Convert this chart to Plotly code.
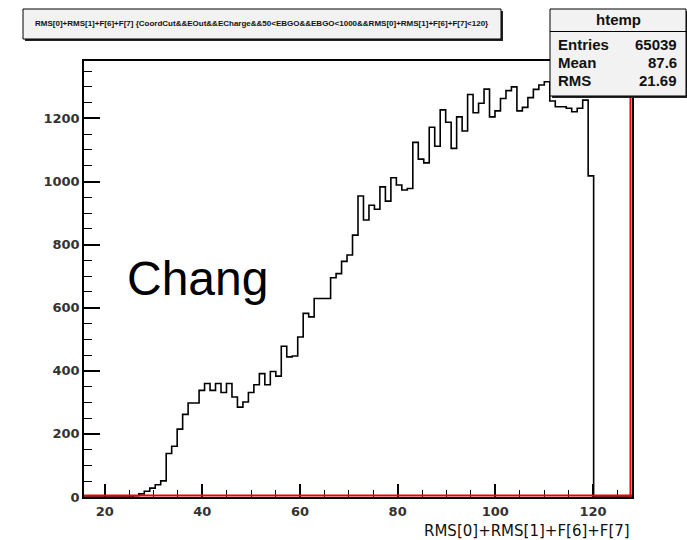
import plotly.graph_objects as go

# Histogram definition: 100 equal bins between XMIN and XMAX
XMIN, XMAX = 15.76, 128.0
NBINS = 100
YMAX = 1382

counts = (
    [0] * 9
    + [4, 10, 18, 28, 39, 51]
    + [138, 161, 215, 262, 298, 298]
    + [338, 360, 338, 360, 331, 360, 317, 285, 301, 331]
    + [356, 391, 356, 398, 383, 478, 444, 447, 507, 582]
    + [571, 629, 629, 629, 695, 708, 747, 767, 830, 954]
    + [878, 925, 912, 983, 938, 1012, 989, 973, 978, 1124]
    + [1071, 1059, 1172, 1112, 1227, 1188, 1105, 1205, 1160, 1276]
    + [1218, 1248, 1293, 1205, 1224, 1263, 1288, 1300, 1224, 1235]
    + [1266, 1292, 1306, 1316, 1255, 1237, 1237, 1232, 1221, 1232, 1258, 1018]
    + [0] * 7
)

x_ticks = [20, 40, 60, 80, 100, 120]
y_ticks = [0, 200, 400, 600, 800, 1000, 1200]

hist_name = "htemp"
stat_labels = ["Entries", "Mean", "RMS"]
stat_values = ["65039", "87.6", "21.69"]
x_title = "RMS[0]+RMS[1]+F[6]+F[7]"
plot_title = ("RMS[0]+RMS[1]+F[6]+F[7] {CoordCut&&EOut&&ECharge&&50<EBGO&&"
              "EBGO<1000&&RMS[0]+RMS[1]+F[6]+F[7]<120}")
label_text = "Chang"

bw = (XMAX - XMIN) / NBINS
edges = [XMIN + i * bw for i in range(NBINS + 1)]
step_y = counts + [counts[-1]]

W, H = 687, 540
ML, MR, MT, MB = 84, 55, 61, 43
PW, PH = W - ML - MR, H - MT - MB


def px(x):
    return (x - ML) / PW


def py(y):
    return (H - MB - y) / PH


fig = go.Figure()
fig.add_trace(go.Scatter(
    x=edges, y=step_y, mode="lines", line_shape="hv",
    line=dict(color="black", width=1.6), hoverinfo="skip", showlegend=False,
))

shapes = []
# red lines just inside the bottom and right edges of the frame
shapes.append(dict(type="line", xref="x", yref="y", x0=XMIN, x1=XMAX,
                   ysizemode="pixel", yanchor=0, y0=1.5, y1=1.5,
                   line=dict(color="#ee0000", width=2), layer="above"))
shapes.append(dict(type="line", xref="x", yref="y", y0=0, y1=YMAX,
                   xsizemode="pixel", xanchor=XMAX, x0=-1.5, x1=-1.5,
                   line=dict(color="#ee0000", width=2), layer="above"))

# title pave with shadow
tb = (23, 9, 501, 39)
shapes.append(dict(type="rect", xref="paper", yref="paper",
                   x0=px(tb[0] + 2), x1=px(tb[2] + 2), y0=py(tb[3] + 2), y1=py(tb[1] + 2),
                   fillcolor="#222222", line=dict(width=0), layer="above"))
shapes.append(dict(type="rect", xref="paper", yref="paper",
                   x0=px(tb[0]), x1=px(tb[2]), y0=py(tb[3]), y1=py(tb[1]),
                   fillcolor="#f2f2f2", line=dict(color="black", width=1), layer="above"))

# statistics box with shadow
sb = (550, 9, 686, 96)
shapes.append(dict(type="rect", xref="paper", yref="paper",
                   x0=px(sb[0] + 2), x1=px(sb[2] + 2), y0=py(sb[3] + 2), y1=py(sb[1] + 2),
                   fillcolor="#222222", line=dict(width=0), layer="above"))
shapes.append(dict(type="rect", xref="paper", yref="paper",
                   x0=px(sb[0]), x1=px(sb[2]), y0=py(sb[3]), y1=py(sb[1]),
                   fillcolor="#f2f2f2", line=dict(color="black", width=1), layer="above"))
shapes.append(dict(type="line", xref="paper", yref="paper",
                   x0=px(sb[0]), x1=px(sb[2]), y0=py(31.5), y1=py(31.5),
                   line=dict(color="black", width=1), layer="above"))

annotations = []
stat_font = dict(family="Liberation Sans", size=15, color="#111111")
annotations.append(dict(xref="paper", yref="paper", x=px(618), y=py(20), text=f"<b>{hist_name}</b>",
                        showarrow=False, xanchor="center", yanchor="middle",
                        font=stat_font))
for i, (lab, val) in enumerate(zip(stat_labels, stat_values)):
    yy = py(44 + i * 18.5)
    annotations.append(dict(xref="paper", yref="paper", x=px(556), y=yy, text=f"<b>{lab}</b>",
                            showarrow=False, xanchor="left", yanchor="middle", font=stat_font))
    annotations.append(dict(xref="paper", yref="paper", x=px(679), y=yy, text=f"<b>{val}</b>",
                            showarrow=False, xanchor="right", yanchor="middle", font=stat_font))

annotations.append(dict(xref="paper", yref="paper", x=px(261), y=py(24), text=f"<b>{plot_title}</b>",
                        showarrow=False, xanchor="center", yanchor="middle",
                        font=dict(family="Liberation Sans", size=8, color="#111111")))

annotations.append(dict(xref="x", yref="y", x=39.0, y=692, text=label_text,
                        showarrow=False, xanchor="center", yanchor="middle",
                        font=dict(family="Liberation Sans", size=48, color="black")))

annotations.append(dict(xref="paper", yref="paper", x=px(632), y=py(531), text=x_title,
                        showarrow=False, xanchor="right", yanchor="middle",
                        font=dict(family="DejaVu Sans", size=15, color="#111111")))

tick_font = dict(family="DejaVu Sans", size=13, color="#333333", weight="bold")

fig.update_layout(
    width=W, height=H,
    margin=dict(l=ML, r=MR, t=MT, b=MB, pad=0),
    paper_bgcolor="white", plot_bgcolor="white",
    showlegend=False,
    shapes=shapes, annotations=annotations,
)
fig.update_xaxes(
    range=[XMIN, XMAX], tickvals=x_ticks, ticktext=[str(v) for v in x_ticks],
    ticks="inside", ticklen=13, tickwidth=1.5, tickcolor="black",
    minor=dict(dtick=5, tick0=0, ticks="inside", ticklen=7, tickwidth=1.2, tickcolor="black"),
    showgrid=False, zeroline=False,
    showline=True, mirror=True, linecolor="black", linewidth=1.5,
    tickfont=tick_font,
    ticklabelstandoff=2,
)
fig.update_yaxes(
    range=[0, YMAX], tickvals=y_ticks, ticktext=[str(v) for v in y_ticks],
    ticks="inside", ticklen=16, tickwidth=1.5, tickcolor="black",
    minor=dict(dtick=50, tick0=0, ticks="inside", ticklen=8, tickwidth=1.2, tickcolor="black"),
    showgrid=False, zeroline=False,
    showline=True, mirror=True, linecolor="black", linewidth=1.5,
    tickfont=tick_font,
    ticklabelstandoff=0,
)

fig.write_html("out.html")
